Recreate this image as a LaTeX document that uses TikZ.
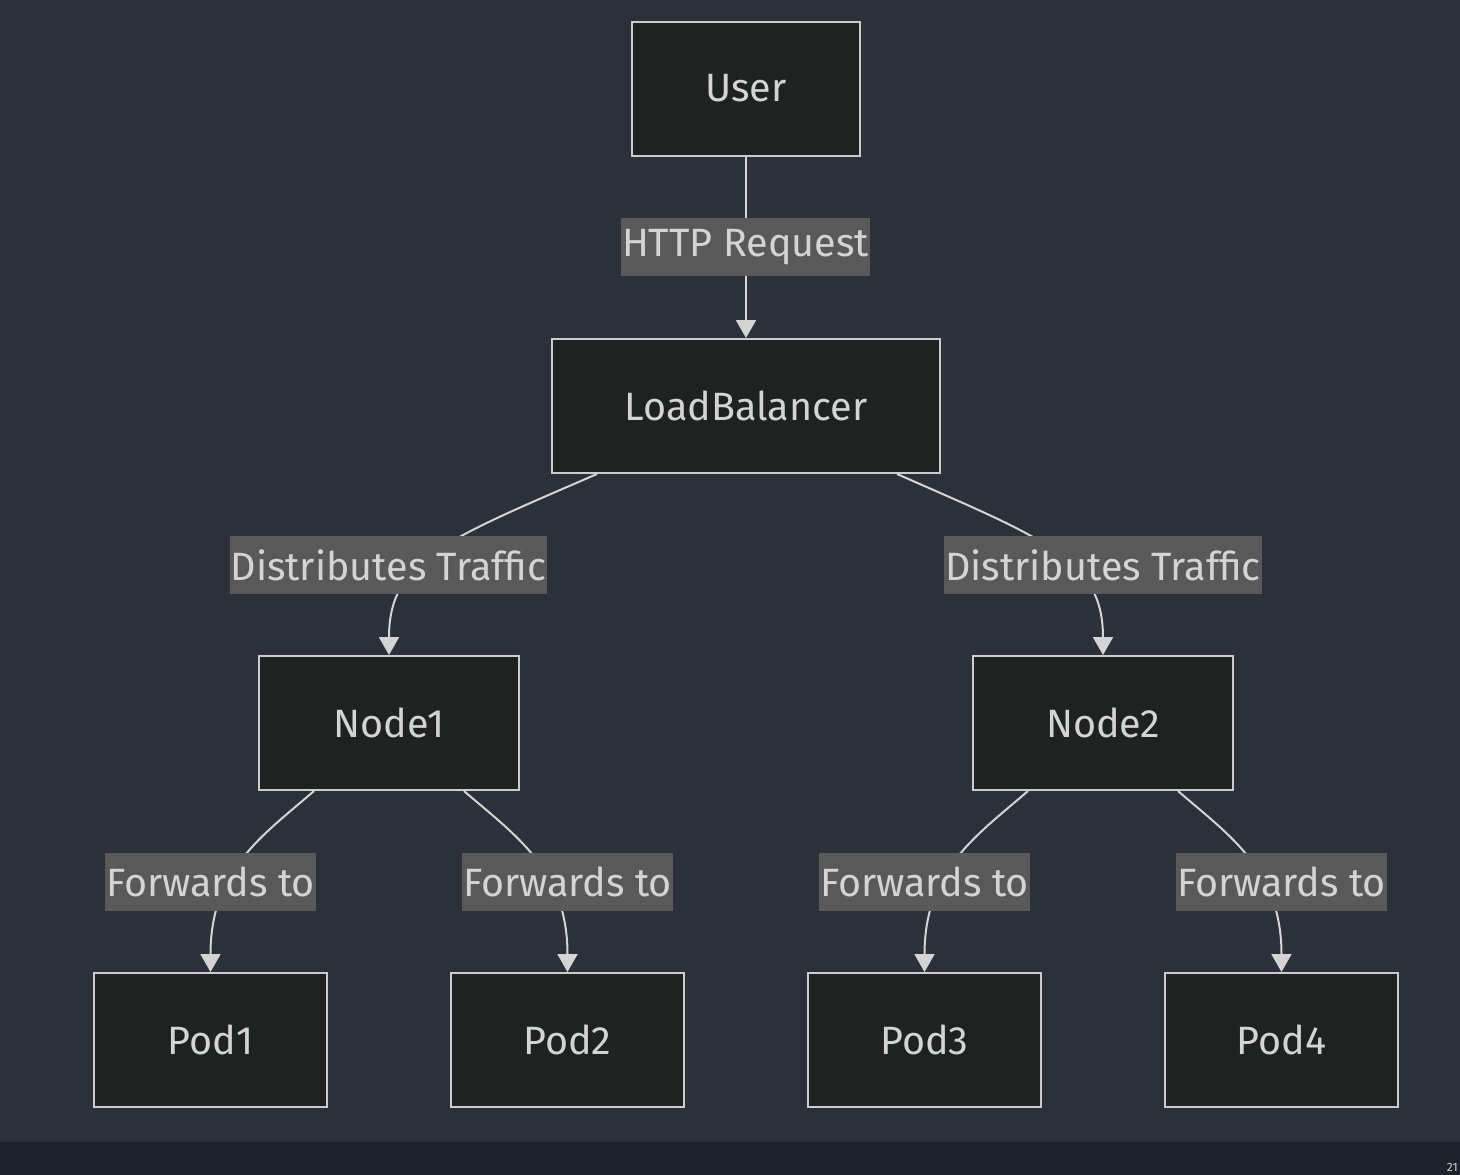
\documentclass[tikz,border=0pt]{standalone}
\usepackage{fontspec}
\setmainfont{Fira Sans}
\usetikzlibrary{arrows.meta}
\definecolor{canvas}{HTML}{2B303B}
\definecolor{strip}{HTML}{1B222A}
\definecolor{boxfill}{HTML}{202221}
\definecolor{boxline}{HTML}{CCCCCC}
\definecolor{lblfill}{HTML}{595959}
\definecolor{inktext}{HTML}{D4D4D4}
\begin{document}
\begin{tikzpicture}[x=1pt,y=-1pt,
    box/.style={draw=boxline, line width=2pt, fill=boxfill, text=inktext,
      minimum height=134pt, inner sep=0pt, font=\fontsize{39.5}{44}\selectfont},
    lbl/.style={fill=lblfill, text=inktext, minimum height=58pt,
      inner xsep=1pt, inner ysep=0pt, font=\fontsize{39.5}{44}\selectfont},
    link/.style={draw=inktext, line width=2pt,
      -{Triangle[width=20pt,length=18pt]}}]
            %Canvas
            \useasboundingbox (0,0) rectangle (1460,1175);
            \fill[canvas] (0,0) rectangle (1460,1142);
            \fill[strip]  (0,1142) rectangle (1460,1175);
            \node[text=inktext, font=\fontsize{12}{14}\selectfont, anchor=south east, inner sep=0pt]
              at (1458,1172) (pg) {21};

            %Nodes
            \node[box, minimum width=228pt] at (746,88.5)   (user) {User};
            \node[box, minimum width=388pt] at (746,406)    (lb)   {LoadBalancer};
            \node[box, minimum width=260pt] at (389,723)    (n1)   {Node1};
            \node[box, minimum width=260pt] at (1103,723)   (n2)   {Node2};
            \node[box, minimum width=233pt] at (210.5,1040) (p1)   {Pod1};
            \node[box, minimum width=233pt] at (567.5,1040) (p2)   {Pod2};
            \node[box, minimum width=233pt] at (924.5,1040) (p3)   {Pod3};
            \node[box, minimum width=233pt] at (1281.5,1040)(p4)   {Pod4};

            %Label spots
            \coordinate (http) at (745.5,247);
            \coordinate (dt1)  at (388.5,565);
            \coordinate (dt2)  at (1103,565);
            \coordinate (fw1)  at (210.5,881.5);
            \coordinate (fw2)  at (567.5,881.5);
            \coordinate (fw3)  at (924.5,881.5);
            \coordinate (fw4)  at (1281.5,881.5);

            %Lines
            \draw[link] (user)  -- (lb);
            \draw[link] ([xshift=-149pt]lb.south) .. controls (445,540) and (389,560) .. (n1.north);
            \draw[link] ([xshift=151pt]lb.south)  .. controls (1047,540) and (1103,560) .. (n2.north);
            \draw[link] ([xshift=-75pt]n1.south) .. controls (262,836) and (210.5,870) .. (p1.north);
            \draw[link] ([xshift=75pt]n1.south)  .. controls (516,836) and (567.5,870) .. (p2.north);
            \draw[link] ([xshift=-75pt]n2.south) .. controls (976,836) and (924.5,870) .. (p3.north);
            \draw[link] ([xshift=75pt]n2.south)  .. controls (1230,836) and (1281.5,870) .. (p4.north);

            %Labels
            \node[lbl] at (http) (lhttp) {HTTP Request};
            \node[lbl] at (dt1)  (ldt1)  {Distributes Traffic};
            \node[lbl] at (dt2)  (ldt2)  {Distributes Traffic};
            \node[lbl] at (fw1)  (lfw1)  {Forwards to};
            \node[lbl] at (fw2)  (lfw2)  {Forwards to};
            \node[lbl] at (fw3)  (lfw3)  {Forwards to};
            \node[lbl] at (fw4)  (lfw4)  {Forwards to};
        \end{tikzpicture}
\end{document}
